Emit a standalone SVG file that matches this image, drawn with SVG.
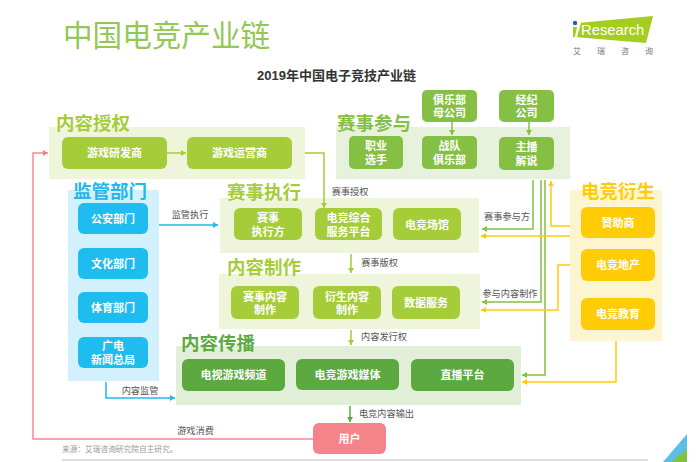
<svg xmlns="http://www.w3.org/2000/svg" width="700" height="462" viewBox="0 0 700 462">
<defs>
<marker id="aLime" markerWidth="8" markerHeight="8" refX="5" refY="3" orient="auto" markerUnits="userSpaceOnUse"><path d="M0 0L5 3L0 6Z" fill="#a5cd39"/></marker>
<marker id="aGreen" markerWidth="8" markerHeight="8" refX="5" refY="3" orient="auto" markerUnits="userSpaceOnUse"><path d="M0 0L5 3L0 6Z" fill="#85c044"/></marker>
<marker id="aDark" markerWidth="8" markerHeight="8" refX="5" refY="3" orient="auto" markerUnits="userSpaceOnUse"><path d="M0 0L5 3L0 6Z" fill="#5ca93f"/></marker>
<marker id="aBlue" markerWidth="8" markerHeight="8" refX="5" refY="3" orient="auto" markerUnits="userSpaceOnUse"><path d="M0 0L5 3L0 6Z" fill="#22b8ec"/></marker>
<marker id="aYellow" markerWidth="8" markerHeight="8" refX="5" refY="3" orient="auto" markerUnits="userSpaceOnUse"><path d="M0 0L5 3L0 6Z" fill="#ffcc05"/></marker>
<marker id="aPink" markerWidth="8" markerHeight="8" refX="5" refY="3" orient="auto" markerUnits="userSpaceOnUse"><path d="M0 0L5 3L0 6Z" fill="#ef7f88"/></marker>
</defs>
<style>
text{font-family:"Liberation Sans","Noto Sans CJK SC",sans-serif;dominant-baseline:central}
.n{font-size:11px;font-weight:700;fill:#fff;text-anchor:middle}
.h{font-size:18.5px;font-weight:700}
.l{font-size:9.2px;fill:#555;text-anchor:middle}
.c{fill:none;stroke-width:1.5}
.lime{stroke:#a5cd39;marker-end:url(#aLime)}
.green{stroke:#85c044;marker-end:url(#aGreen)}
.dark{stroke:#5ca93f;marker-end:url(#aDark)}
.blue{stroke:#22b8ec;marker-end:url(#aBlue)}
.yellow{stroke:#ffcc05;marker-end:url(#aYellow)}
.pink{stroke:#ef8c93;marker-end:url(#aPink)}
.pl{fill:#eef5da}.pg{fill:#e6f2dc}.pb{fill:#d2f1fc}.pd{fill:#e1efd9}.py{fill:#fdf4d0}
.nl{fill:#a5cd39}.ng{fill:#85c044}.nb{fill:#1fbcf0}.nd{fill:#5ca93f}.ny{fill:#ffcc05}.nu{fill:#f4838a}
</style>
<rect width="700" height="462" fill="#fff"/>
<g id="header">
<text x="63" y="35" font-size="29.600" fill="#92c855">中国电竞产业链</text>
<text x="336.500" y="75" font-size="13" font-weight="700" fill="#333" text-anchor="middle">2019年中国电子竞技产业链</text>
</g>
<g id="logo">
<polygon points="578,23 653,16 646,43 574,37" fill="#a5cd1e"/>
<polygon points="578,23 581,23 577,37 574,37" fill="#fff"/>
<circle cx="575" cy="23" r="2.200" fill="#2a5ca8"/>
<polygon points="573,27 577,27 575,37 573,37" fill="#a5cd1e"/>
<text x="581" y="30" font-size="14.800" fill="#fff">Research</text>
<text x="577" y="51" font-size="8" fill="#777" text-anchor="middle">艾</text>
<text x="601" y="51" font-size="8" fill="#777" text-anchor="middle">瑞</text>
<text x="625" y="51" font-size="8" fill="#777" text-anchor="middle">咨</text>
<text x="649" y="51" font-size="8" fill="#777" text-anchor="middle">询</text>
</g>
<g id="panels">
<rect id="p-license" class="pl" x="49" y="127" width="256" height="52"/>
<rect id="p-part" class="pg" x="336" y="127" width="234" height="52"/>
<rect id="p-reg" class="pb" x="68" y="190" width="91" height="191"/>
<rect id="p-exec" class="pl" x="220" y="198" width="259" height="55"/>
<rect id="p-make" class="pl" x="219" y="274" width="261" height="55"/>
<rect id="p-spread" class="pd" x="176" y="346" width="345" height="59"/>
<rect id="p-deriv" class="py" x="570" y="190" width="92" height="151"/>
<text class="h" x="56" y="123" fill="#a5cd39">内容授权</text>
<text class="h" x="337" y="123" fill="#85c044">赛事参与</text>
<text class="h" x="73" y="191" fill="#22b8ec">监管部门</text>
<text class="h" x="227" y="192" fill="#a5cd39">赛事执行</text>
<text class="h" x="227" y="267" fill="#a5cd39">内容制作</text>
<text class="h" x="181" y="343" fill="#5ca93f">内容传播</text>
<text class="h" x="581" y="191" fill="#ffcc05">电竞衍生</text>
</g>
<g id="connectors">
<path class="c green" d="M533 180V229H482"/>
<path class="c green" d="M541 180V302H482"/>
<path class="c green" d="M545 180V375H522"/>
<path class="c yellow" d="M570 226H551V181"/>
<path class="c yellow" d="M570 236H481"/>
<path class="c yellow" d="M570 265H558V310H481"/>
<path class="c yellow" d="M616 341V382H522"/>
<path class="c lime" d="M167 153H186"/>
<path class="c lime" d="M305 153H324V208"/>
<path class="c green" d="M452 122V135"/>
<path class="c green" d="M529 122V135"/>
<path class="c blue" d="M159 225H218"/>
<path class="c blue" d="M106 382V398H175"/>
<path class="c lime" d="M351 254V273"/>
<path class="c lime" d="M351 330V345"/>
<path class="c dark" d="M350 406V422"/>
<path class="c pink" d="M313 439H33V153H48"/>
</g>
<g id="labels">
<text class="l" x="350" y="192">赛事授权</text>
<text class="l" x="190" y="215">监管执行</text>
<text class="l" x="507" y="217">赛事参与方</text>
<text class="l" x="379.500" y="263">赛事版权</text>
<text class="l" x="510" y="294">参与内容制作</text>
<text class="l" x="384" y="337">内容发行权</text>
<text class="l" x="140" y="391">内容监管</text>
<text class="l" x="195.500" y="431">游戏消费</text>
<text class="l" x="386.500" y="414">电竞内容输出</text>
</g>
<g id="n-dev"><rect class="nl" x="62" y="137" width="105" height="32" rx="6"/><text class="n" x="114.500" y="153">游戏研发商</text></g>
<g id="n-op"><rect class="nl" x="187" y="137" width="105" height="32" rx="6"/><text class="n" x="239.500" y="153">游戏运营商</text></g>
<g id="n-club-parent"><rect class="ng" x="422" y="90" width="55" height="32" rx="5"/><text class="n" x="449.500" y="99.500">俱乐部<tspan x="449.500" dy="13.500">母公司</tspan></text></g>
<g id="n-agency"><rect class="ng" x="499" y="90" width="55" height="32" rx="5"/><text class="n" x="526.500" y="99.500">经纪<tspan x="526.500" dy="13.500">公司</tspan></text></g>
<g id="n-player"><rect class="ng" x="349" y="136" width="54" height="33" rx="5"/><text class="n" x="376" y="146">职业<tspan x="376" dy="13.500">选手</tspan></text></g>
<g id="n-club"><rect class="ng" x="422" y="136" width="55" height="33" rx="5"/><text class="n" x="449.500" y="146">战队<tspan x="449.500" dy="13.500">俱乐部</tspan></text></g>
<g id="n-host"><rect class="ng" x="499" y="137" width="55" height="33" rx="5"/><text class="n" x="526.500" y="147">主播<tspan x="526.500" dy="13.500">解说</tspan></text></g>
<g id="n-police"><rect class="nb" x="78" y="203" width="70" height="31" rx="6"/><text class="n" x="113" y="219">公安部门</text></g>
<g id="n-culture"><rect class="nb" x="78" y="248" width="70" height="31" rx="6"/><text class="n" x="113" y="264">文化部门</text></g>
<g id="n-sport"><rect class="nb" x="78" y="292" width="70" height="31" rx="6"/><text class="n" x="113" y="308">体育部门</text></g>
<g id="n-radio"><rect class="nb" x="78" y="337" width="70" height="31" rx="6"/><text class="n" x="113" y="346">广电<tspan x="113" dy="13.500">新闻总局</tspan></text></g>
<g id="n-exec"><rect class="nl" x="234" y="208" width="68" height="32" rx="6"/><text class="n" x="268" y="218">赛事<tspan x="268" dy="13.500">执行方</tspan></text></g>
<g id="n-service"><rect class="nl" x="315" y="208" width="67" height="32" rx="6"/><text class="n" x="348.500" y="218">电竞综合<tspan x="348.500" dy="13.500">服务平台</tspan></text></g>
<g id="n-venue"><rect class="nl" x="393" y="208" width="68" height="32" rx="6"/><text class="n" x="427" y="224.500">电竞场馆</text></g>
<g id="n-content"><rect class="nl" x="231" y="286" width="68" height="33" rx="6"/><text class="n" x="265" y="296.500">赛事内容<tspan x="265" dy="13.500">制作</tspan></text></g>
<g id="n-derived"><rect class="nl" x="313" y="286" width="68" height="33" rx="6"/><text class="n" x="347" y="296.500">衍生内容<tspan x="347" dy="13.500">制作</tspan></text></g>
<g id="n-data"><rect class="nl" x="392" y="286" width="68" height="33" rx="6"/><text class="n" x="426" y="302.500">数据服务</text></g>
<g id="n-tv"><rect class="nd" x="182" y="359" width="103" height="32" rx="6"/><text class="n" x="233.500" y="375">电视游戏频道</text></g>
<g id="n-media"><rect class="nd" x="296" y="359" width="103" height="31" rx="6"/><text class="n" x="347.500" y="374.500">电竞游戏媒体</text></g>
<g id="n-live"><rect class="nd" x="411" y="359" width="103" height="32" rx="6"/><text class="n" x="462.500" y="375">直播平台</text></g>
<g id="n-sponsor"><rect class="ny" x="581" y="207" width="74" height="31" rx="6"/><text class="n" x="618" y="223">赞助商</text></g>
<g id="n-estate"><rect class="ny" x="581" y="249" width="74" height="32" rx="6"/><text class="n" x="618" y="265">电竞地产</text></g>
<g id="n-edu"><rect class="ny" x="581" y="298" width="74" height="32" rx="6"/><text class="n" x="618" y="314">电竞教育</text></g>
<g id="n-user"><rect class="nu" x="313" y="423" width="73" height="31" rx="6"/><text class="n" x="349.500" y="439">用户</text></g>
<g id="footer">
<text x="62" y="449" font-size="7.700" fill="#999">来源：艾瑞咨询研究院自主研究。</text>
<line x1="62" y1="460" x2="648" y2="460" stroke="#bbb" stroke-width="1"/>
<polygon points="663,462 687,434 687,462" fill="#5cbde8"/>
<polygon points="671,462 687,449 687,462" fill="#7fc241"/>
</g>
</svg>
